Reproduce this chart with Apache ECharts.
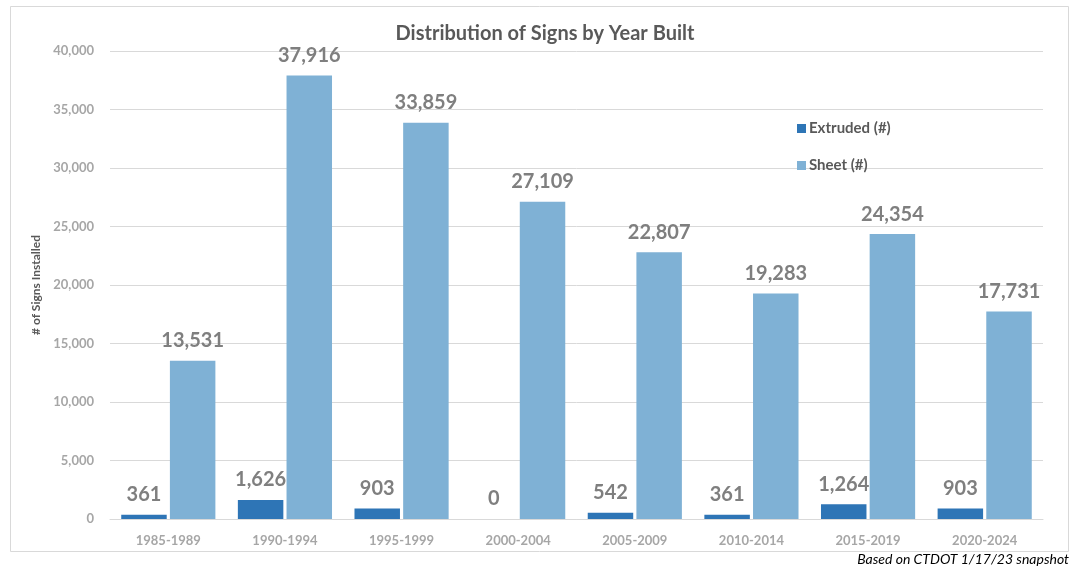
<!DOCTYPE html>
<html>
<head>
<meta charset="utf-8">
<script src="https://cdn.jsdelivr.net/npm/echarts@6/dist/echarts.min.js"></script>
<style>
  html, body { margin: 0; padding: 0; background: #fff; }
  #chart { width: 1081px; height: 567px; }
</style>
</head>
<body>
<div id="chart"></div>
<script>
var years = ["1985-1989", "1990-1994", "1995-1999", "2000-2004", "2005-2009", "2010-2014", "2015-2019", "2020-2024"];
var extruded = [361, 1626, 903, 0, 542, 361, 1264, 903];
var sheet = [13531, 37916, 33859, 27109, 22807, 19283, 24354, 17731];
var legendNames = ["Extruded (#)", "Sheet (#)"];
var colors = ["#2E75B6", "#7FB1D5"];

var chart = echarts.init(document.getElementById("chart"));
var fontFamily = "Lato, 'Open Sans', sans-serif";

function labelFmt(p) {
  return p.value.toLocaleString("en-US");
}

var option = {
  backgroundColor: "#fff",
  animation: false,
  textStyle: { fontFamily: fontFamily },
  title: {
    text: "Distribution of Signs by Year Built",
    left: 540,
    top: 19,
    textAlign: "center",
    textStyle: { fontSize: 20, fontWeight: "bold", color: "#595959", fontFamily: fontFamily }
  },
  legend: {
    orient: "vertical",
    left: 792,
    top: 116,
    itemGap: 22,
    itemWidth: 9,
    itemHeight: 9,
    icon: "rect",
    data: legendNames,
    textStyle: { fontSize: 15, fontWeight: "bold", color: "#595959", padding: [0, 0, 0, -2] }
  },
  grid: { left: 110, right: 38, top: 51, bottom: 48 },
  xAxis: {
    type: "category",
    data: years,
    axisLine: { lineStyle: { color: "#d9d9d9" } },
    axisTick: { show: false },
    axisLabel: { color: "#a6a6a6", fontSize: 13, fontWeight: "bold", margin: 15 }
  },
  yAxis: {
    type: "value",
    min: 0,
    max: 40000,
    interval: 5000,
    name: "# of Signs Installed",
    nameLocation: "middle",
    nameGap: 68,
    nameTextStyle: { color: "#595959", fontSize: 12, fontWeight: "bold" },
    axisLine: { show: false },
    axisTick: { show: false },
    splitLine: { lineStyle: { color: "#d9d9d9" } },
    axisLabel: {
      color: "#a6a6a6", fontSize: 13, fontWeight: "bold", margin: 16,
      formatter: function (v) { return v.toLocaleString("en-US"); }
    }
  },
  graphic: [
    {
      type: "rect",
      shape: { x: 10.5, y: 6.5, width: 1058, height: 545 },
      style: { fill: "none", stroke: "#d9d9d9", lineWidth: 1 },
      z: -1
    },
    {
      type: "text",
      right: 12,
      top: 552,
      style: { text: "Based on CTDOT 1/17/23 snapshot", font: "italic 14px Lato", fill: "#000" }
    }
  ],
  series: [
    {
      name: legendNames[0],
      type: "bar",
      data: extruded,
      barWidth: "39%",
      barGap: "7%",
      itemStyle: { color: colors[0] },
      label: { show: true, position: "top", distance: 10, color: "#7f7f7f", fontSize: 20, fontWeight: "bold", formatter: labelFmt }
    },
    {
      name: legendNames[1],
      type: "bar",
      data: sheet,
      barWidth: "39%",
      itemStyle: { color: colors[1] },
      label: { show: true, position: "top", distance: 10, color: "#7f7f7f", fontSize: 20, fontWeight: "bold", formatter: labelFmt }
    }
  ]
};

chart.setOption(option);
</script>
</body>
</html>
